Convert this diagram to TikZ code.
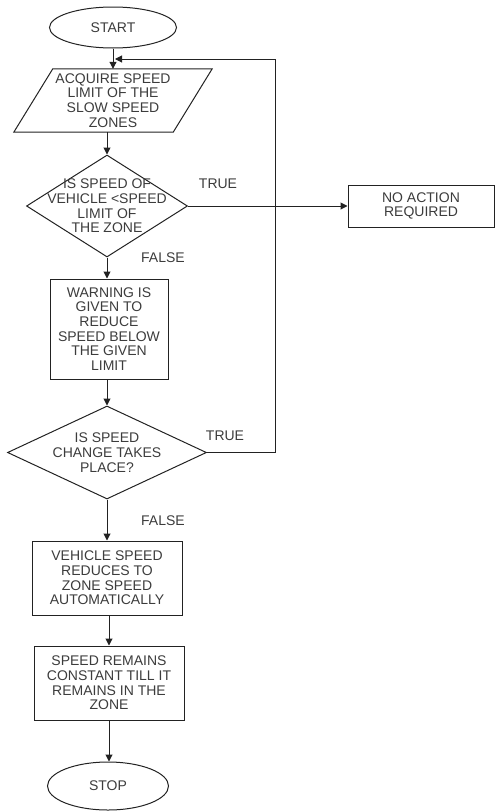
\documentclass[tikz,border=0pt]{standalone}
\usepackage{fontspec}
\setmainfont{Liberation Sans}
\usetikzlibrary{shapes.geometric,arrows.meta}
\definecolor{txt}{HTML}{3C3C3C}
\definecolor{ln}{HTML}{222222}
\begin{document}
\begin{tikzpicture}[x=1pt,y=-1pt,
  every node/.style={font=\fontsize{14}{14.7}\selectfont, text=txt, align=center, inner sep=0pt},
  box/.style={draw=ln, line width=1pt, rectangle},
  ell/.style={draw=ln, line width=1pt, ellipse},
  dia/.style={draw=ln, line width=1pt, diamond},
  shp/.style={draw=ln, line width=1pt},
  arr/.style={draw=ln, line width=1pt, -{Triangle[length=7pt,width=7pt]}}]
\useasboundingbox (0,0) rectangle (495,811);
% nodes
\node[ell, minimum width=127, minimum height=41] (start) at (113,27.5) {START};
\node[minimum width=198, minimum height=63] (acq) at (113,100.5) {ACQUIRE SPEED\\LIMIT OF THE\\SLOW SPEED\\ZONES};
\draw[shp] ([xshift=39]acq.north west) -- (acq.north east) -- ([xshift=-39]acq.south east) -- (acq.south west) -- cycle;
\node[dia, minimum width=161, minimum height=102] (d1) at (107,206) {};
\node (t1) at (d1) {IS SPEED OF\\VEHICLE <SPEED\\LIMIT OF\\THE ZONE};
\node[box, minimum width=146, minimum height=42] (na) at (421,206) {NO ACTION\\REQUIRED};
\node[box, minimum width=118, minimum height=100] (warn) at (109,329) {WARNING IS\\GIVEN TO\\REDUCE\\SPEED BELOW\\THE GIVEN\\LIMIT};
\node[dia, minimum width=199, minimum height=93] (d2) at (107,452.5) {};
\node (t2) at (d2) {IS SPEED\\CHANGE TAKES\\PLACE?};
\node[box, minimum width=150, minimum height=74] (veh) at (107,578) {VEHICLE SPEED\\REDUCES TO\\ZONE SPEED\\AUTOMATICALLY};
\node[box, minimum width=150, minimum height=74] (rem) at (109,683) {SPEED REMAINS\\CONSTANT TILL IT\\REMAINS IN THE\\ZONE};
\node[ell, minimum width=121, minimum height=48] (stop) at (108,786) {STOP};
% labels
\node (lt1) at (218,184) {TRUE};
\node (lf1) at (163,258) {FALSE};
\node (lt2) at (225,436) {TRUE};
\node (lf2) at (163,521) {FALSE};
% connectors
\coordinate (lc) at (275,59);
\draw[arr] (start.south) -- (start.south |- acq.north);
\draw[arr] (d1.north |- acq.south) -- (d1.north);
\draw[arr] (d1.east) -- (na.west);
\draw[arr] (d1.south) -- (d1.south |- warn.north);
\draw[arr] (d2.north |- warn.south) -- (d2.north);
\draw[arr] (d2.east) -| (lc) -- ([xshift=2]start.south |- lc);
\draw[arr] (d2.south) -- (d2.south |- veh.north);
\draw[arr] (rem.north |- veh.south) -- (rem.north);
\draw[arr] (rem.south) -- (rem.south |- stop.north);
\end{tikzpicture}
\end{document}
